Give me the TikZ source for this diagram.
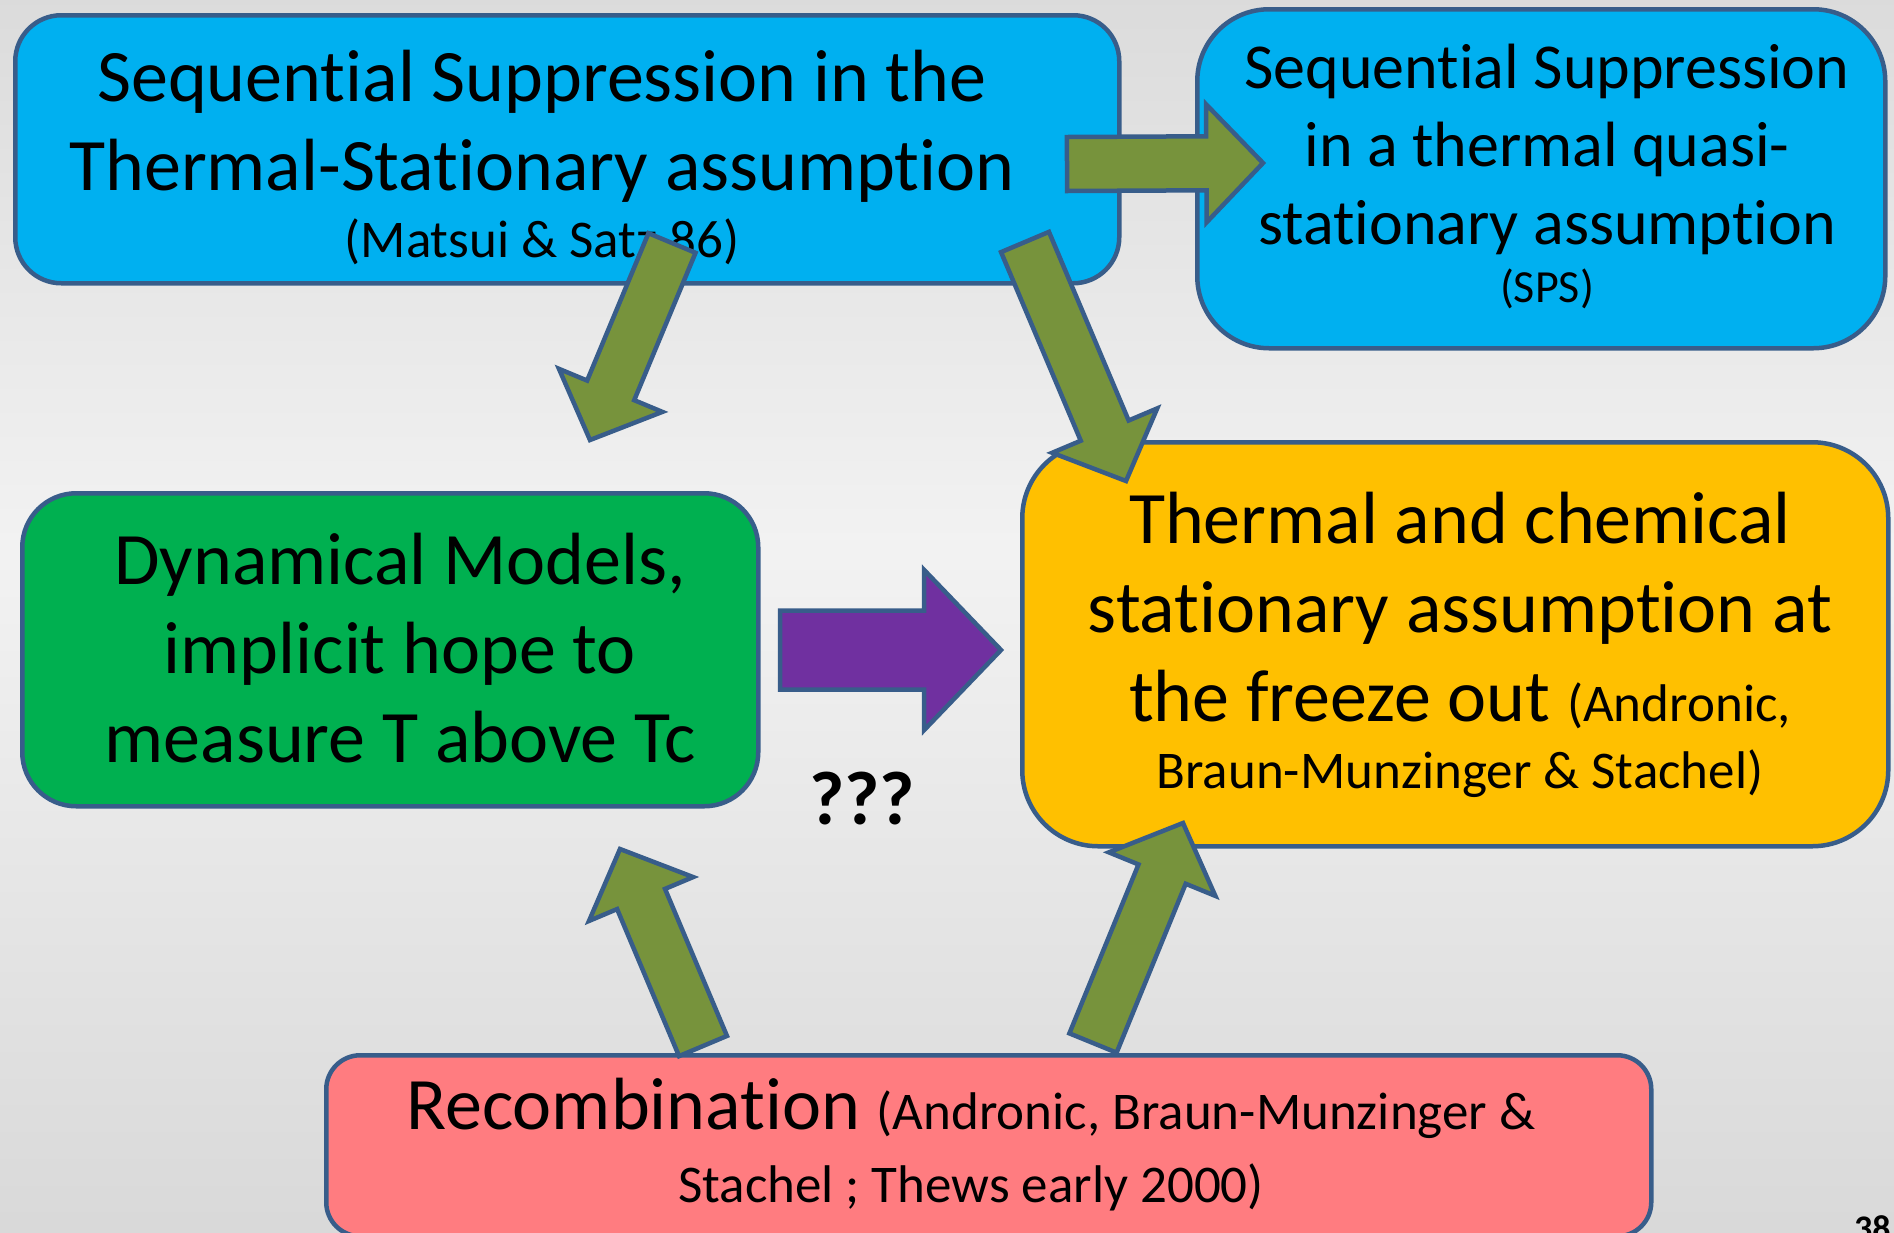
\documentclass[tikz,border=0pt]{standalone}
\usepackage{fontspec}
\setmainfont{Carlito}[Ligatures=NoCommon]
\usetikzlibrary{calc, positioning}

\definecolor{skyblue}{HTML}{00B0F0}
\definecolor{leafgreen}{HTML}{00B050}
\definecolor{amber}{HTML}{FFC000}
\definecolor{salmon}{HTML}{FF7C80}
\definecolor{olivefill}{HTML}{77933C}
\definecolor{plum}{HTML}{7030A0}
\definecolor{shapeline}{HTML}{385D8A}

\tikzset{
  box/.style={draw=shapeline, line width=4.5pt, anchor=north west, inner sep=0pt},
  bigtext/.style={font=\fontsize{74}{89}\selectfont, align=center, inner sep=0pt},
  arrowline/.style={draw=shapeline, line width=4.5pt, line join=miter},
}
\newcommand{\smalltext}{\fontsize{53}{64}\selectfont}
% block arrow: fill, tail, tip, shaft width, head width
\newcommand{\blockarrow}[5]{%
  \draw[arrowline, fill=#1] let \p1=($(#3)-(#2)$), \n1={atan2(\y1,\x1)}, \n2={veclen(\x1,\y1)-0.48*#5} in
    ($(#2)+(\n1+90:#4/2)$) -- ($(#2)+(\n1:\n2)+(\n1+90:#4/2)$)
    -- ($(#2)+(\n1:\n2)+(\n1+90:#5/2)$) -- (#3)
    -- ($(#2)+(\n1:\n2)+(\n1-90:#5/2)$) -- ($(#2)+(\n1:\n2)+(\n1-90:#4/2)$)
    -- ($(#2)+(\n1-90:#4/2)$) -- cycle;
}

\begin{document}
\begin{tikzpicture}[x=1pt, y=1pt]
\useasboundingbox (0,0) rectangle (1894,-1232);
\shade[top color=black!14, bottom color=black!5] (0,0) rectangle (1894,-550);
\shade[top color=black!5, bottom color=black!15] (0,-550) rectangle (1894,-1232);

\node[box, fill=skyblue, rounded corners=46pt, minimum width=1104pt, minimum height=268pt] (seqbox) at (13,-13) {};
\node[box, fill=skyblue, rounded corners=72pt, minimum width=688pt, minimum height=339pt] (spsbox) at (1195,-7) {};
\node[box, fill=leafgreen, rounded corners=54pt, minimum width=736pt, minimum height=313pt] (dynbox) at (20,-491) {};
\node[box, fill=amber, rounded corners=76pt, minimum width=866pt, minimum height=404pt] (thermbox) at (1020,-440) {};
\node[box, fill=salmon, rounded corners=34pt, minimum width=1325pt, minimum height=181pt] (recobox) at (324,-1053) {};

\node[bigtext] (seqtext) at (542,-157) {Sequential Suppression in the\\Thermal-Stationary assumption\\[-22pt]{\smalltext (Matsui \& Satz 86)}};
\node[bigtext, font=\fontsize{64}{78}\selectfont] (spstext) at (1547,-176) {Sequential Suppression\\in a thermal quasi-\\stationary assumption\\[-20pt]{\fontsize{46}{55}\selectfont (SPS)}};
\node[bigtext] (dyntext) at (400,-648) {Dynamical Models,\\implicit hope to\\measure T above Tc};
\node[bigtext] (thermtext) at (1460,-645) {Thermal and chemical\\stationary assumption at\\the freeze out {\smalltext (Andronic,}\\[-22pt]{\smalltext Braun-Munzinger \& Stachel)}};
\node[bigtext] (recotext) at (971,-1145) {Recombination {\smalltext (Andronic, Braun-Munzinger \&}\\[-16pt]{\smalltext Stachel ; Thews early 2000)}};

\coordinate (sps-from) at (1067,-164);
\coordinate (sps-to) at (1263,-163);
\coordinate (dyn-from) at (672,-243);
\coordinate (dyn-to) at (590,-440);
\coordinate (therm-from) at (1025,-242);
\coordinate (therm-to) at (1126,-481);
\coordinate (reco-dyn-from) at (703,-1046);
\coordinate (reco-dyn-to) at (620,-849);
\coordinate (reco-therm-from) at (1093,-1043);
\coordinate (reco-therm-to) at (1183,-823);
\coordinate (dyn-therm-from) at (780,-650);
\coordinate (dyn-therm-to) at (1001,-650);

\blockarrow{olivefill}{sps-from}{sps-to}{54}{118}
\blockarrow{olivefill}{dyn-from}{dyn-to}{51}{112}
\blockarrow{olivefill}{therm-from}{therm-to}{52}{114}
\blockarrow{olivefill}{reco-dyn-from}{reco-dyn-to}{52}{113}
\blockarrow{olivefill}{reco-therm-from}{reco-therm-to}{51}{115}
\blockarrow{plum}{dyn-therm-from}{dyn-therm-to}{79}{160}

\node[font=\bfseries\fontsize{76}{90}\selectfont, inner sep=0pt] (qmarks) at (862,-799) {???};
\node[font=\bfseries\fontsize{36}{43}\selectfont, inner sep=0pt, anchor=north west] (pagenum) at (1854,-1215) {38};
\end{tikzpicture}
\end{document}
